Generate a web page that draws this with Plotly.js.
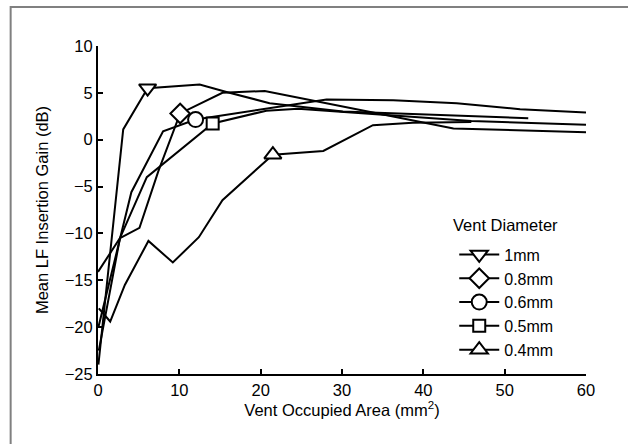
<!DOCTYPE html>
<html>
<head>
<meta charset="utf-8">
<script src="https://cdn.plot.ly/plotly-3.0.1.min.js"></script>
<style>
html,body{margin:0;padding:0;background:#fff;overflow:hidden;}
#chart{width:628px;height:444px;}
</style>
</head>
<body>
<div id="chart"></div>
<script>
// Vent Diameter series (x: vent occupied area mm^2, y: mean LF insertion gain dB)
const names = ["1mm", "0.8mm", "0.6mm", "0.5mm", "0.4mm"];
const symbols = ["triangle-down", "diamond", "circle", "square", "triangle-up"];
const legendTitle = "Vent Diameter";
const xTitle = "Vent Occupied Area (mm<sup>2</sup>)";
const yTitle = "Mean LF Insertion Gain (dB)";

const x_1mm = [0.05, 3.1, 6.1, 12.5, 15.8, 21.1, 30.1, 52.9];
const y_1mm = [-24.0, 1.1, 5.5, 5.9, 5.1, 3.9, 3.0, 2.3];
const mark_1mm = 2;

const x_08mm = [0.1, 2.7, 5.1, 7.4, 10.1, 15.3, 20.5, 43.7, 60];
const y_08mm = [-22.5, -10.5, -9.4, -3.4, 2.8, 5.0, 5.2, 1.2, 0.8];
const mark_08mm = 4;

const x_06mm = [0.05, 4.1, 8.0, 12.0, 28.1, 36.3, 44.1, 51.9, 60];
const y_06mm = [-20.0, -5.6, 0.9, 2.15, 4.3, 4.2, 3.9, 3.25, 2.9];
const mark_06mm = 3;

const x_05mm = [0.0, 2.7, 6.0, 14.1, 20.7, 24.6, 45.9, 60];
const y_05mm = [-14.1, -10.5, -4.0, 1.73, 3.1, 3.3, 2.0, 1.6];
const mark_05mm = 3;

const x_04mm = [0.1, 1.5, 3.3, 6.2, 9.2, 12.4, 15.3, 21.5, 27.7, 33.8, 38.7, 45.9];
const y_04mm = [-18.0, -19.4, -15.5, -10.8, -13.1, -10.4, -6.45, -1.6, -1.2, 1.55, 1.8, 1.9];
const mark_04mm = 7;

const xs = [x_1mm, x_08mm, x_06mm, x_05mm, x_04mm];
const ys = [y_1mm, y_08mm, y_06mm, y_05mm, y_04mm];
const marks = [mark_1mm, mark_08mm, mark_06mm, mark_05mm, mark_04mm];
const msizes = [15, 15, 15, 12, 15];

const traces = names.map((n, i) => ({
  type: "scatter",
  mode: "lines+markers",
  name: n,
  x: xs[i],
  y: ys[i],
  line: {color: "#000", width: 2},
  marker: {symbol: symbols[i], size: msizes[i], color: "#fff", line: {color: "#000", width: 2}},
  selectedpoints: [marks[i]],
  selected: {marker: {opacity: 1}},
  unselected: {marker: {opacity: 0}},
  cliponaxis: false
}));

const fontFam = "Liberation Sans, Arial, sans-serif";
const fs = 16.5;
const layout = {
  width: 628, height: 444,
  margin: {l: 98, r: 42, t: 46, b: 70},
  paper_bgcolor: "#fff", plot_bgcolor: "#fff",
  font: {family: fontFam, size: fs, color: "#000"},
  showlegend: true,
  xaxis: {
    range: [0, 60], dtick: 10, showgrid: false, zeroline: false,
    showline: true, linecolor: "#000", linewidth: 2,
    ticks: "inside", ticklen: 5, tickwidth: 2, tickcolor: "#000",
    tickfont: {family: fontFam, size: fs},
    title: {text: xTitle, font: {family: fontFam, size: fs}, standoff: 7}
  },
  yaxis: {
    range: [-25, 10], dtick: 5, showgrid: false, zeroline: false,
    showline: true, linecolor: "#000", linewidth: 2,
    ticks: "inside", ticklen: 5, tickwidth: 2, tickcolor: "#000",
    tickfont: {family: fontFam, size: fs},
    title: {text: yTitle, font: {family: fontFam, size: fs}, standoff: 12}
  },
  legend: {
    x: 0.73, y: 0.416, xanchor: "left", yanchor: "top",
    bgcolor: "rgba(0,0,0,0)",
    font: {family: fontFam, size: 16},
    itemwidth: 40
  },
  annotations: [{
    text: legendTitle, xref: "paper", yref: "paper",
    x: (505 - 98) / 488, y: (374.5 - 225) / 328.5,
    xanchor: "center", yanchor: "middle", showarrow: false,
    font: {family: fontFam, size: fs}
  }],
  shapes: [{
    type: "rect", xref: "paper", yref: "paper",
    x0: -0.179, x1: 1.3, y0: -0.4, y1: 1.119,
    line: {color: "#808080", width: 2}, fillcolor: "rgba(0,0,0,0)", layer: "below"
  }]
};

Plotly.newPlot("chart", traces, layout, {displayModeBar: false, staticPlot: true});
</script>
</body>
</html>
